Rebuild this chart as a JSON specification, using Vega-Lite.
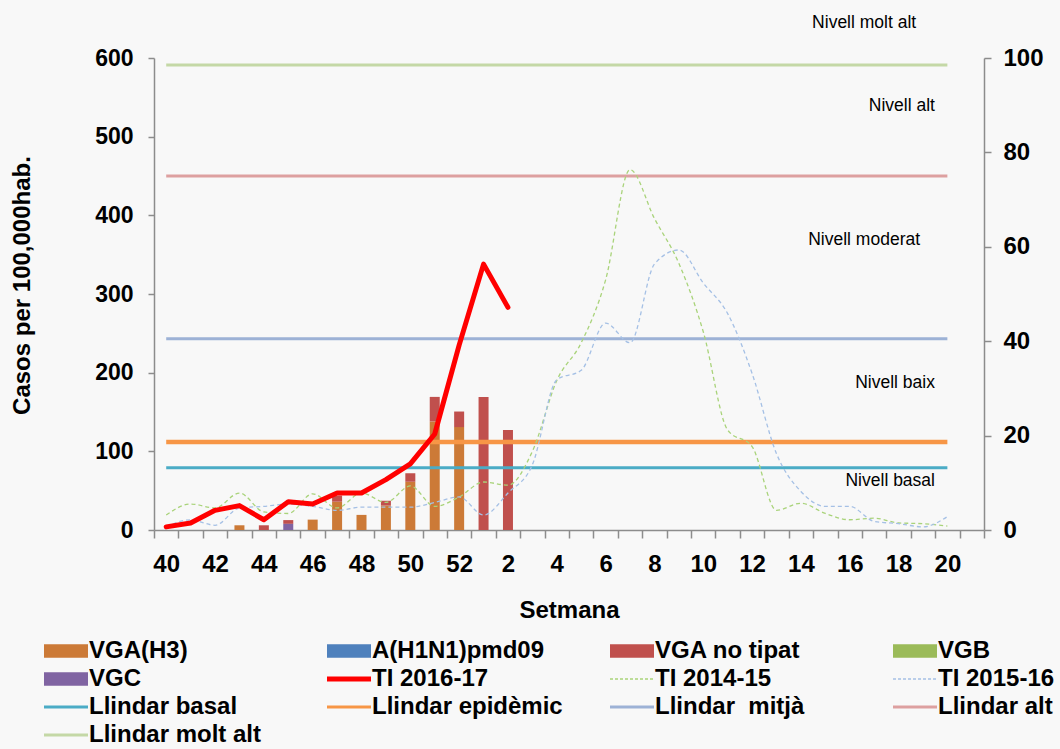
{
  "$schema": "https://vega.github.io/schema/vega-lite/v6.json",
  "width": 830,
  "height": 472,
  "autosize": {"type": "none"},
  "padding": {"left": 154, "top": 58, "right": 76, "bottom": 219},
  "background": "#f8f8f8",
  "config": {
    "view": {"stroke": null},
    "font": "Liberation Sans",
    "axis": {
      "labelFont": "Liberation Sans",
      "labelFontWeight": "bold",
      "labelFontSize": 23,
      "labelColor": "#000000",
      "titleFont": "Liberation Sans",
      "titleFontWeight": "bold",
      "titleColor": "#000000",
      "domainColor": "#8c8c8c",
      "domainWidth": 1.5,
      "tickColor": "#8c8c8c",
      "tickWidth": 1.5,
      "grid": false
    }
  },
  "datasets": {
    "bars": [
      {"week": "43", "series": "VGA(H3)", "value": 1.0},
      {"week": "44", "series": "VGA no tipat", "value": 1.0},
      {"week": "45", "series": "VGA no tipat", "value": 0.8},
      {"week": "45", "series": "VGC", "value": 1.3},
      {"week": "46", "series": "VGA(H3)", "value": 2.2},
      {"week": "47", "series": "VGA(H3)", "value": 6.0},
      {"week": "47", "series": "VGA no tipat", "value": 1.3},
      {"week": "48", "series": "VGA(H3)", "value": 3.2},
      {"week": "49", "series": "VGA(H3)", "value": 5.2},
      {"week": "49", "series": "VGA no tipat", "value": 1.0},
      {"week": "50", "series": "VGA(H3)", "value": 10.2},
      {"week": "50", "series": "VGA no tipat", "value": 1.8},
      {"week": "51", "series": "VGA(H3)", "value": 23.0},
      {"week": "51", "series": "VGA no tipat", "value": 5.2},
      {"week": "52", "series": "VGA(H3)", "value": 21.8},
      {"week": "52", "series": "VGA no tipat", "value": 3.3},
      {"week": "1", "series": "VGA no tipat", "value": 28.2},
      {"week": "2", "series": "VGA no tipat", "value": 21.2}
    ],
    "thresholds": [
      {"series": "Llindar basal", "week": "40", "week2": "20", "value": 79},
      {"series": "Llindar epidèmic", "week": "40", "week2": "20", "value": 112},
      {"series": "Llindar\u00a0 mitjà", "week": "40", "week2": "20", "value": 243},
      {"series": "Llindar alt", "week": "40", "week2": "20", "value": 450},
      {"series": "Llindar molt alt", "week": "40", "week2": "20", "value": 591}
    ],
    "lines": [
      {"series": "TI 2016-17", "week": "40", "value": 4},
      {"series": "TI 2016-17", "week": "41", "value": 9},
      {"series": "TI 2016-17", "week": "42", "value": 25},
      {"series": "TI 2016-17", "week": "43", "value": 31},
      {"series": "TI 2016-17", "week": "44", "value": 13},
      {"series": "TI 2016-17", "week": "45", "value": 36},
      {"series": "TI 2016-17", "week": "46", "value": 33},
      {"series": "TI 2016-17", "week": "47", "value": 47},
      {"series": "TI 2016-17", "week": "48", "value": 47},
      {"series": "TI 2016-17", "week": "49", "value": 64},
      {"series": "TI 2016-17", "week": "50", "value": 84},
      {"series": "TI 2016-17", "week": "51", "value": 122},
      {"series": "TI 2016-17", "week": "52", "value": 235},
      {"series": "TI 2016-17", "week": "1", "value": 338},
      {"series": "TI 2016-17", "week": "2", "value": 283},

      {"series": "TI 2014-15", "week": "40", "value": 19},
      {"series": "TI 2014-15", "week": "41", "value": 33},
      {"series": "TI 2014-15", "week": "42", "value": 28},
      {"series": "TI 2014-15", "week": "43", "value": 47},
      {"series": "TI 2014-15", "week": "44", "value": 23},
      {"series": "TI 2014-15", "week": "45", "value": 21},
      {"series": "TI 2014-15", "week": "46", "value": 46},
      {"series": "TI 2014-15", "week": "47", "value": 28},
      {"series": "TI 2014-15", "week": "48", "value": 47},
      {"series": "TI 2014-15", "week": "49", "value": 35},
      {"series": "TI 2014-15", "week": "50", "value": 56},
      {"series": "TI 2014-15", "week": "51", "value": 30},
      {"series": "TI 2014-15", "week": "52", "value": 42},
      {"series": "TI 2014-15", "week": "1", "value": 61},
      {"series": "TI 2014-15", "week": "2", "value": 57},
      {"series": "TI 2014-15", "week": "3", "value": 100},
      {"series": "TI 2014-15", "week": "4", "value": 190},
      {"series": "TI 2014-15", "week": "5", "value": 238},
      {"series": "TI 2014-15", "week": "6", "value": 318},
      {"series": "TI 2014-15", "week": "7", "value": 458},
      {"series": "TI 2014-15", "week": "8", "value": 396},
      {"series": "TI 2014-15", "week": "9", "value": 339},
      {"series": "TI 2014-15", "week": "10", "value": 252},
      {"series": "TI 2014-15", "week": "11", "value": 127},
      {"series": "TI 2014-15", "week": "12", "value": 106},
      {"series": "TI 2014-15", "week": "13", "value": 25},
      {"series": "TI 2014-15", "week": "14", "value": 34},
      {"series": "TI 2014-15", "week": "15", "value": 21},
      {"series": "TI 2014-15", "week": "16", "value": 13},
      {"series": "TI 2014-15", "week": "17", "value": 15},
      {"series": "TI 2014-15", "week": "18", "value": 9},
      {"series": "TI 2014-15", "week": "19", "value": 8},
      {"series": "TI 2014-15", "week": "20", "value": 5},

      {"series": "TI 2015-16", "week": "40", "value": 4},
      {"series": "TI 2015-16", "week": "41", "value": 13},
      {"series": "TI 2015-16", "week": "42", "value": 6},
      {"series": "TI 2015-16", "week": "43", "value": 28},
      {"series": "TI 2015-16", "week": "44", "value": 30},
      {"series": "TI 2015-16", "week": "45", "value": 33},
      {"series": "TI 2015-16", "week": "46", "value": 30},
      {"series": "TI 2015-16", "week": "47", "value": 25},
      {"series": "TI 2015-16", "week": "48", "value": 29},
      {"series": "TI 2015-16", "week": "49", "value": 29},
      {"series": "TI 2015-16", "week": "50", "value": 29},
      {"series": "TI 2015-16", "week": "51", "value": 35},
      {"series": "TI 2015-16", "week": "52", "value": 42},
      {"series": "TI 2015-16", "week": "1", "value": 19},
      {"series": "TI 2015-16", "week": "2", "value": 47},
      {"series": "TI 2015-16", "week": "3", "value": 83},
      {"series": "TI 2015-16", "week": "4", "value": 191},
      {"series": "TI 2015-16", "week": "5", "value": 203},
      {"series": "TI 2015-16", "week": "6", "value": 263},
      {"series": "TI 2015-16", "week": "7", "value": 238},
      {"series": "TI 2015-16", "week": "8", "value": 338},
      {"series": "TI 2015-16", "week": "9", "value": 356},
      {"series": "TI 2015-16", "week": "10", "value": 314},
      {"series": "TI 2015-16", "week": "11", "value": 275},
      {"series": "TI 2015-16", "week": "12", "value": 199},
      {"series": "TI 2015-16", "week": "13", "value": 97},
      {"series": "TI 2015-16", "week": "14", "value": 49},
      {"series": "TI 2015-16", "week": "15", "value": 30},
      {"series": "TI 2015-16", "week": "16", "value": 30},
      {"series": "TI 2015-16", "week": "17", "value": 11},
      {"series": "TI 2015-16", "week": "18", "value": 8},
      {"series": "TI 2015-16", "week": "19", "value": 4},
      {"series": "TI 2015-16", "week": "20", "value": 17}
    ],
    "notes": [
      {"label": "Nivell molt alt", "week": "17", "value": 644, "anchor": "center"},
      {"label": "Nivell alt", "week": "19", "value": 539, "anchor": "right"},
      {"label": "Nivell moderat", "week": "17", "value": 369, "anchor": "center"},
      {"label": "Nivell baix", "week": "19", "value": 187, "anchor": "right"},
      {"label": "Nivell basal", "week": "19", "value": 62, "anchor": "right"}
    ]
  },
  "encoding": {
    "x": {
      "field": "week",
      "type": "ordinal",
      "scale": {
        "domain": ["40","41","42","43","44","45","46","47","48","49","50","51","52","1","2","3","4","5","6","7","8","9","10","11","12","13","14","15","16","17","18","19","20","21"],
        "paddingInner": 0,
        "paddingOuter": 0
      },
      "axis": {
        "title": "Setmana",
        "titleFontSize": 24,
        "titlePadding": 22,
        "labelAngle": 0,
        "labelOverlap": false,
        "labelExpr": "toNumber(datum.value) % 2 == 0 ? datum.label : ''",
        "tickBand": "extent",
        "tickSize": 8,
        "labelPadding": 14,
        "labelFontSize": 24
      }
    },
    "color": {
      "field": "series",
      "type": "nominal",
      "scale": {
        "domain": ["VGA(H3)", "A(H1N1)pmd09", "VGA no tipat", "VGB", "VGC", "TI 2016-17", "TI 2014-15", "TI 2015-16", "Llindar basal", "Llindar epidèmic", "Llindar\u00a0 mitjà", "Llindar alt", "Llindar molt alt"],
        "range": ["#CC7A37", "#4F81BD", "#C0504D", "#9BBB59", "#8064A2", "#FF0000", "#A9D37A", "#A5C0E5", "#4BACC6", "#F79646", "#9DB2D6", "#DDA0A0", "#C4D8A6"]
      },
      "legend": {
        "orient": "none",
        "legendX": -100,
        "legendY": 581,
        "direction": "horizontal",
        "columns": 4,
        "gridAlign": "all",
        "columnPadding": 37,
        "rowPadding": 4,
        "padding": 0,
        "title": null,
        "labelFont": "Liberation Sans",
        "labelFontWeight": "bold",
        "labelFontSize": 24,
        "labelColor": "#000000",
        "labelLimit": 400,
        "labelOffset": 11,
        "symbolSize": 400,
        "encoding": {
          "symbols": {
            "shape": {"value": {"expr": "indexof(['VGA(H3)','A(H1N1)pmd09','VGA no tipat','VGB','VGC'], datum.value) >= 0 ? 'M-2.2,-0.68H2.2V0.68H-2.2Z' : 'M-2.2,0H2.2'"}},
            "fill": {"value": {"expr": "indexof(['VGA(H3)','A(H1N1)pmd09','VGA no tipat','VGB','VGC'], datum.value) >= 0 ? scale('color', datum.value) : 'transparent'"}},
            "stroke": {"value": {"expr": "scale('color', datum.value)"}},
            "strokeWidth": {"value": {"expr": "indexof(['VGA(H3)','A(H1N1)pmd09','VGA no tipat','VGB','VGC'], datum.value) >= 0 ? 0 : (datum.value == 'TI 2016-17' ? 5 : ((datum.value == 'TI 2014-15' || datum.value == 'TI 2015-16') ? 1.3 : 3))"}},
            "strokeDash": {"value": {"expr": "(datum.value == 'TI 2014-15' || datum.value == 'TI 2015-16') ? [3, 2] : [1, 0]"}},
            "opacity": {"value": 1}
          }
        }
      }
    }
  },
  "layer": [
    {
      "data": {"name": "bars"},
      "mark": {"type": "bar", "width": 10},
      "encoding": {
        "y": {
          "field": "value",
          "type": "quantitative",
          "stack": "zero",
          "scale": {"domain": [0, 100], "nice": false},
          "axis": {"orient": "right", "title": null, "values": [0, 20, 40, 60, 80, 100], "tickSize": 7, "labelPadding": 12, "labelFontSize": 24}
        },
        "order": {"field": "series", "sort": "descending"}
      }
    },
    {
      "encoding": {
        "y": {
          "field": "value",
          "type": "quantitative",
          "scale": {"domain": [0, 600], "nice": false},
          "axis": {"title": "Casos per 100,000hab.", "titleFontSize": 24, "titlePadding": 60, "titleY": 227, "values": [0, 100, 200, 300, 400, 500, 600], "tickSize": 6, "labelPadding": 15}
        }
      },
      "layer": [
        {
          "data": {"name": "thresholds"},
          "mark": {"type": "rule"},
          "encoding": {
            "x2": {"field": "week2"},
            "strokeWidth": {"condition": {"test": "datum.series == 'Llindar epidèmic'", "value": 4.5}, "value": 3}
          }
        },
        {
          "data": {"name": "lines"},
          "transform": [{"filter": "datum.series != 'TI 2016-17'"}],
          "mark": {"type": "line", "strokeWidth": 1.3, "strokeDash": [4, 3], "interpolate": "monotone"}
        },
        {
          "data": {"name": "lines"},
          "transform": [{"filter": "datum.series == 'TI 2016-17'"}],
          "mark": {"type": "line", "strokeWidth": 5, "strokeJoin": "round", "strokeCap": "round"}
        },
        {
          "data": {"name": "notes"},
          "transform": [{"filter": "datum.anchor == 'right'"}],
          "mark": {"type": "text", "align": "right", "baseline": "middle", "dx": 12, "font": "Liberation Sans", "fontSize": 17.5},
          "encoding": {"text": {"field": "label"}, "color": {"value": "#000000"}}
        },
        {
          "data": {"name": "notes"},
          "transform": [{"filter": "datum.anchor == 'center'"}],
          "mark": {"type": "text", "align": "center", "baseline": "middle", "dx": -10, "font": "Liberation Sans", "fontSize": 17.5},
          "encoding": {"text": {"field": "label"}, "color": {"value": "#000000"}}
        }
      ]
    }
  ],
  "resolve": {"scale": {"y": "independent"}}
}
